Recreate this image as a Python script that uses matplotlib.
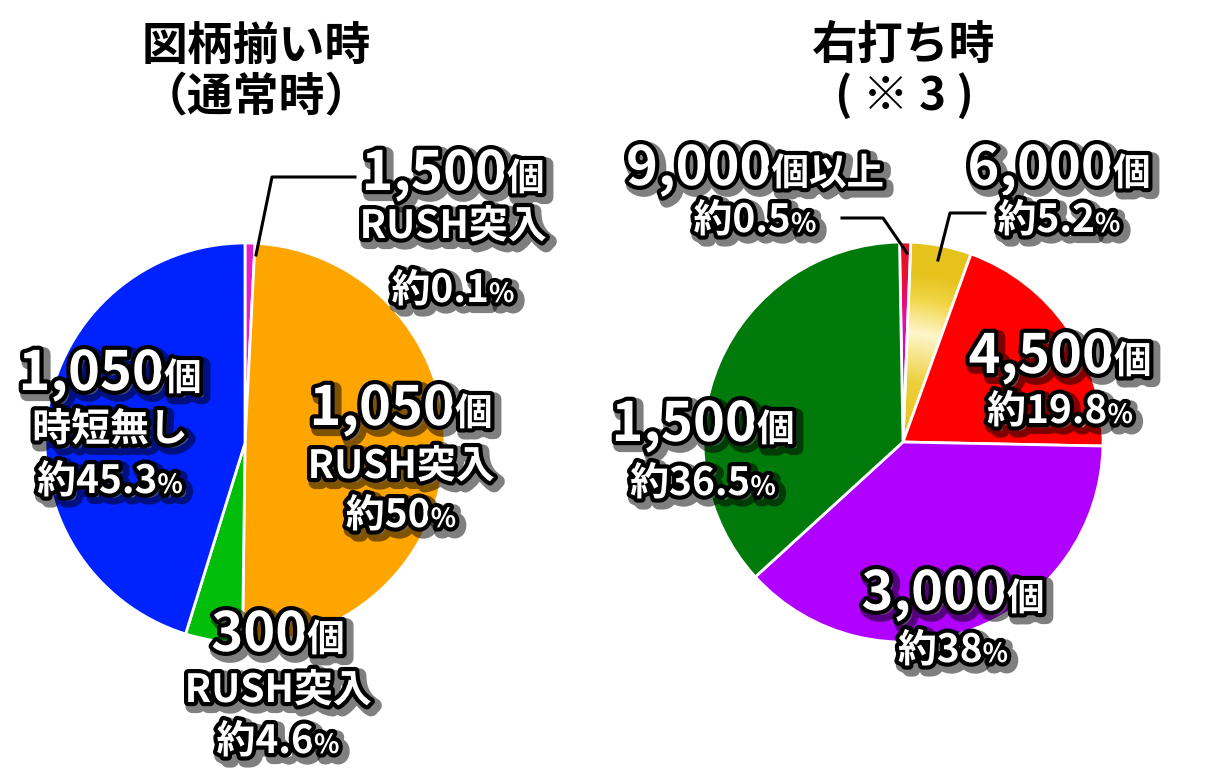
import numpy as np
import matplotlib
matplotlib.use("Agg")
import matplotlib.pyplot as plt
import matplotlib.patheffects as pe

plt.rcParams['font.family'] = ['Noto Sans CJK JP', 'DejaVu Sans']

W, H = 1209, 783

# left pie: 図柄揃い時 (clockwise from 12 o'clock), shares as drawn
left_share = [0.8, 49.4, 4.6, 45.2]
left_colors = ['#E21CC8', '#FFA500', '#00BE0A', '#0022FF']
left_counts = ['1,500', '1,050', '300', '1,050']
left_notes = ['RUSH突入', 'RUSH突入', 'RUSH突入', '時短無し']
left_pct = ['0.1', '50', '4.6', '45.3']

# right pie: 右打ち時
right_share = [0.9, 4.9, 19.8, 37.9, 36.5]
right_colors = ['#E8102A', '#E8C620', '#FF0000', '#B000FF', '#007A0A']
right_counts = ['9,000', '6,000', '4,500', '3,000', '1,500']
right_suffix = ['個以上', '個', '個', '個', '個']
right_pct = ['0.5', '5.2', '19.8', '38', '36.5']

fig = plt.figure(figsize=(W / 100, H / 100), dpi=100)
ax = fig.add_axes([0, 0, 1, 1])

def Y(y):
    return H - y

R = 200
lc = (245, Y(443))
rc = (903, Y(442))
wp = dict(edgecolor='white', linewidth=2)

lw_, _ = ax.pie(left_share, colors=left_colors, startangle=90, counterclock=False,
                center=lc, radius=R, wedgeprops=wp)
rw_, _ = ax.pie(right_share, colors=right_colors, startangle=91, counterclock=False,
                center=rc, radius=R, wedgeprops=wp)


def radial_fill(wedge, center, stops):
    # paint a wedge with a radial colour gradient
    n = 400
    xs = np.linspace(center[0] - R, center[0] + R, n)
    ys = np.linspace(center[1] - R, center[1] + R, n)
    gx, gy = np.meshgrid(xs, ys)
    rr = np.clip(np.hypot(gx - center[0], gy - center[1]) / R, 0, 1)
    pos = [s[0] for s in stops]
    rgb = [matplotlib.colors.to_rgb(s[1]) for s in stops]
    img = np.zeros((n, n, 3))
    for k in range(3):
        img[..., k] = np.interp(rr, pos, [c[k] for c in rgb])
    im = ax.imshow(img, extent=(xs[0], xs[-1], ys[0], ys[-1]), origin='lower', zorder=0.5)
    im.set_clip_path(wedge)
    wedge.set_facecolor('none')
    wedge.set_zorder(1)


radial_fill(rw_[1], rc, [(0, '#E6C020'), (0.3, '#EDCF3A'), (0.55, '#FFF6CC'),
                         (0.72, '#F2D648'), (0.85, '#E6C21C'), (1, '#E6C21C')])
radial_fill(rw_[0], rc, [(0, '#5030FF'), (0.3, '#C000F0'), (0.6, '#E010B0'),
                         (0.85, '#E8102A'), (1, '#E8102A')])

ax.set_xlim(0, W)
ax.set_ylim(0, H)
ax.set_aspect('equal')
ax.axis('off')

fx = [pe.Stroke(linewidth=10, foreground='black', alpha=0.5, offset=(3, -3)),
      pe.Stroke(linewidth=6, foreground='black'),
      pe.Normal()]

renderer = fig.canvas.get_renderer()


def rich_line(x, y, parts):
    texts = []
    for s, sz in parts:
        t = ax.text(0, 0, s, fontsize=sz, fontweight='bold', color='white',
                    ha='left', va='baseline', path_effects=fx, zorder=5)
        texts.append(t)
    widths = [t.get_window_extent(renderer).width for t in texts]
    x0 = x - sum(widths) / 2
    for t, w in zip(texts, widths):
        t.set_position((x0, Y(y)))
        x0 += w


BIG, UNIT, MID, PCT = 39, 27, 28, 19

# left labels: (center x, baseline of each line)
left_pos = [(453, [190, 238, 302]), (401, [425, 478, 527]),
            (278, [651, 702, 753]), (110, [390, 441, 493])]
for i, (x, ys) in enumerate(left_pos):
    rich_line(x, ys[0], [(left_counts[i], BIG), ('個', UNIT)])
    rich_line(x, ys[1], [(left_notes[i], MID)])
    rich_line(x, ys[2], [('約' + left_pct[i], MID), ('%', PCT)])

right_pos = [(755, [185, 232]), (1059, [185, 232]), (1060, [373, 423]),
             (953, [610, 662]), (703, [441, 495])]
for i, (x, ys) in enumerate(right_pos):
    rich_line(x, ys[0], [(right_counts[i], BIG), (right_suffix[i], UNIT)])
    rich_line(x, ys[1], [('約' + right_pct[i], MID), ('%', PCT)])

# leader lines
ax.plot([355, 272, 256], [Y(177), Y(177), Y(255)], color='black', lw=2.2, zorder=4)
ax.plot([842, 883, 907], [Y(218), Y(218), Y(253)], color='black', lw=2.2, zorder=4)
ax.plot([985, 950, 938], [Y(213), Y(213), Y(260)], color='black', lw=2.2, zorder=4)

# titles
ax.text(256, Y(60), '図柄揃い時', fontsize=33, fontweight='bold', ha='center', va='baseline')
ax.text(256, Y(110), '（通常時）', fontsize=33, fontweight='bold', ha='center', va='baseline')
ax.text(904, Y(60), '右打ち時', fontsize=33, fontweight='bold', ha='center', va='baseline')
ax.text(904, Y(110), '( ※ 3 )', fontsize=33, fontweight='bold', ha='center', va='baseline')

fig.savefig('out.png', dpi=100)
